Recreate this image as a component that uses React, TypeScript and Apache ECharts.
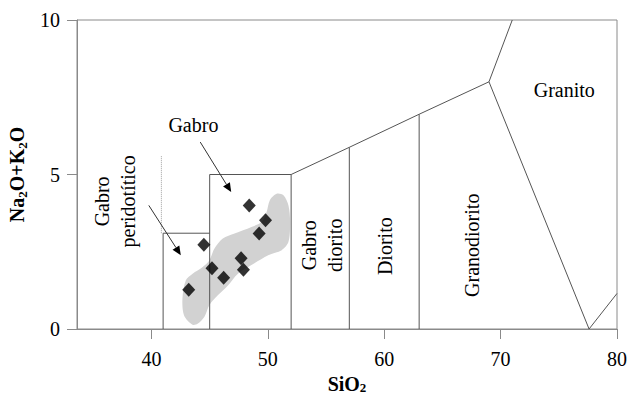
import React, { useEffect, useRef } from "react";
import * as echarts from "echarts";

const FONT = "Liberation Serif";

// Axis ticks
const xTicks = [40, 50, 60, 70, 80];
const xMin = 33.6;
const xMax = 80;
const yMin = 0;
const yMax = 10;

// Sample points (SiO2, Na2O+K2O)
const sampleSiO2 = [43.2, 44.5, 45.2, 46.2, 47.7, 47.9, 48.4, 49.25, 49.8];
const sampleAlk = [1.27, 2.73, 1.97, 1.66, 2.29, 1.92, 4.0, 3.09, 3.52];

// Grey field outline (SiO2, Na2O+K2O)
const fieldX = [43.53, 42.8, 42.66, 42.95, 43.53, 44.4, 44.97, 45.4, 46.13, 47.14, 48.59, 49.45, 49.89, 50.17, 50.75, 51.34, 51.77, 51.91, 51.77, 51.19, 50.03, 48.59, 47.43, 46.57, 45.7, 44.97, 44.54, 43.96];
const fieldY = [0.14, 0.44, 0.98, 1.58, 1.79, 2.01, 2.22, 2.6, 2.93, 3.09, 3.3, 3.46, 3.79, 4.17, 4.38, 4.33, 4.0, 3.46, 2.82, 2.55, 2.39, 2.07, 1.79, 1.41, 1.09, 0.77, 0.39, 0.17];

// Classification boundaries
const boundarySegments: number[][][] = [
  [[41, 0], [41, 3.1], [45, 3.1]],
  [[45, 0], [45, 5], [52, 5], [52, 0]],
  [[52, 5], [57, 5.88], [63, 6.95], [69, 8], [71, 10]],
  [[57, 0], [57, 5.88]],
  [[63, 0], [63, 6.95]],
  [[69, 8], [77.6, 0], [80, 1.15]],
];
const dottedSegment = [[40.85, 3.1], [40.85, 5.6]];

// Field names
const fieldNames = ["Gabro\nperidotítico", "Gabro", "Gabro\ndiorito", "Diorito", "Granodiorito", "Granito"];
const fieldNameX = [36.85, 43.6, 54.66, 60.1, 67.52, 75.47];
const fieldNameY = [4.13, 6.59, 2.71, 2.68, 2.71, 7.73];
const fieldNameVertical = [true, false, true, true, true, false];

// Arrows (from -> to)
const arrowFrom = [[44.19, 6.05], [39.77, 4.0]];
const arrowTo = [[46.85, 4.43], [42.52, 2.39]];

export default function App() {
  const ref = useRef<HTMLDivElement>(null);
  useEffect(() => {
    if (!ref.current) return;
    const chart = echarts.init(ref.current, null, { renderer: "svg" });
    const axisColor = "#8a8a8a";
    const lineColor = "#555";
    const fieldPts = fieldX.map((x, i) => [x, fieldY[i]]);
    const option: any = {
      animation: false,
      backgroundColor: "#fff",
      grid: {
        left: 77,
        right: 13,
        top: 20,
        bottom: 66,
        show: true,
        borderColor: axisColor,
        borderWidth: 1,
        containLabel: false,
        outerBoundsMode: "none",
      },
      xAxis: {
        type: "value",
        min: xMin,
        max: xMax,
        name: "{b|SiO}{s|2}",
        nameLocation: "middle",
        nameGap: 42,
        nameTextStyle: {
          rich: {
            b: { fontFamily: FONT, fontSize: 20, fontWeight: "bold", color: "#000", lineHeight: 20 },
            s: { fontFamily: FONT, fontSize: 13, fontWeight: "bold", color: "#000", lineHeight: 8, verticalAlign: "bottom" },
          },
        },
        axisLine: { show: true, onZero: false, lineStyle: { color: axisColor, width: 1 } },
        axisTick: { show: true, length: 10, customValues: xTicks, lineStyle: { color: axisColor } },
        axisLabel: { customValues: xTicks, margin: 20, fontFamily: FONT, fontSize: 20, color: "#000" },
        splitLine: { show: false },
      },
      yAxis: {
        type: "value",
        min: yMin,
        max: yMax,
        interval: 5,
        name: "{b|Na}{s|2}{b|O+K}{s|2}{b|O}",
        nameLocation: "middle",
        nameGap: 48,
        nameTextStyle: {
          rich: {
            b: { fontFamily: FONT, fontSize: 20, fontWeight: "bold", color: "#000", lineHeight: 24 },
            s: { fontFamily: FONT, fontSize: 13, fontWeight: "bold", color: "#000", lineHeight: 10, verticalAlign: "bottom" },
          },
        },
        axisLine: { show: true, onZero: false, lineStyle: { color: axisColor, width: 1 } },
        axisTick: { show: true, length: 10, lineStyle: { color: axisColor } },
        axisLabel: { margin: 17, fontFamily: FONT, fontSize: 20, color: "#000" },
        splitLine: { show: false },
      },
      series: [
        {
          type: "custom",
          name: "field",
          clip: false,
          z: 1,
          data: [fieldPts[0]],
          renderItem: (params: any, api: any) => {
            const pts = fieldPts.map((p) => api.coord(p));
            return {
              type: "polygon",
              shape: { points: pts, smooth: 0.3 },
              style: { fill: "#d2d2d2", stroke: null },
            };
          },
        },
        {
          type: "custom",
          name: "boundaries",
          clip: false,
          z: 2,
          data: boundarySegments.map((s) => s[0]),
          renderItem: (params: any, api: any) => {
            const seg = boundarySegments[params.dataIndex];
            return {
              type: "polyline",
              shape: { points: seg.map((p) => api.coord(p)) },
              style: { stroke: lineColor, lineWidth: 1, fill: null },
            };
          },
        },
        {
          type: "custom",
          name: "dotted",
          clip: false,
          z: 2,
          data: [dottedSegment[0]],
          renderItem: (params: any, api: any) => {
            const a = api.coord(dottedSegment[0]);
            const b = api.coord(dottedSegment[1]);
            return {
              type: "line",
              shape: { x1: a[0], y1: a[1], x2: b[0], y2: b[1] },
              style: { stroke: "#a0a0a0", lineWidth: 1, lineDash: [1, 1] },
            };
          },
        },
        {
          type: "custom",
          name: "arrows",
          clip: false,
          z: 3,
          data: arrowFrom,
          renderItem: (params: any, api: any) => {
            const i = params.dataIndex;
            const a = api.coord(arrowFrom[i]);
            const b = api.coord(arrowTo[i]);
            const dx = b[0] - a[0];
            const dy = b[1] - a[1];
            const len = Math.sqrt(dx * dx + dy * dy);
            const ux = dx / len;
            const uy = dy / len;
            const hl = 9;
            const hw = 4;
            const bx = b[0] - ux * hl;
            const by = b[1] - uy * hl;
            return {
              type: "group",
              children: [
                {
                  type: "line",
                  shape: { x1: a[0], y1: a[1], x2: bx, y2: by },
                  style: { stroke: "#333", lineWidth: 1 },
                },
                {
                  type: "polygon",
                  shape: {
                    points: [
                      [b[0], b[1]],
                      [bx - uy * hw, by + ux * hw],
                      [bx + uy * hw, by - ux * hw],
                    ],
                  },
                  style: { fill: "#000", stroke: null },
                },
              ],
            };
          },
        },
        {
          type: "custom",
          name: "names",
          clip: false,
          z: 4,
          data: fieldNameX.map((x, i) => [x, fieldNameY[i]]),
          renderItem: (params: any, api: any) => {
            const i = params.dataIndex;
            const p = api.coord([fieldNameX[i], fieldNameY[i]]);
            return {
              type: "text",
              x: p[0],
              y: p[1],
              rotation: fieldNameVertical[i] ? Math.PI / 2 : 0,
              style: {
                text: fieldNames[i],
                fontFamily: FONT,
                fontSize: 20,
                lineHeight: 26,
                fill: "#000",
                align: "center",
                verticalAlign: "middle",
              },
            };
          },
        },
        {
          type: "scatter",
          name: "samples",
          z: 5,
          symbol: "diamond",
          symbolSize: [13, 14],
          itemStyle: { color: "#000" },
          data: sampleSiO2.map((x, i) => [x, sampleAlk[i]]),
        },
      ],
    };
    chart.setOption(option);
    return () => chart.dispose();
  }, []);
  return (
    <div
      ref={ref}
      style={{ position: "fixed", left: 0, top: 0, width: 630, height: 395, background: "#fff" }}
    />
  );
}
